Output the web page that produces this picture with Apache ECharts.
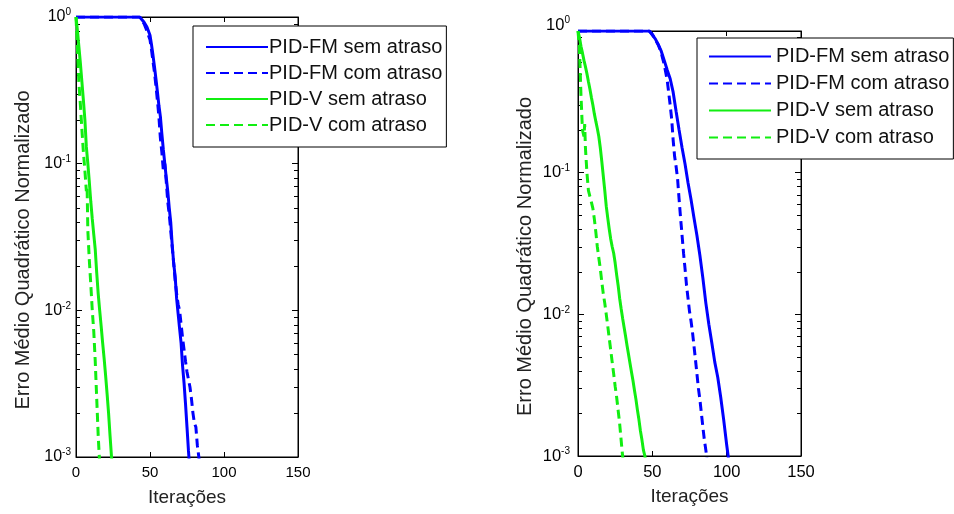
<!DOCTYPE html>
<html>
<head>
<meta charset="utf-8">
<script src="https://cdn.jsdelivr.net/npm/echarts/dist/echarts.min.js"></script>
<style>html,body{margin:0;padding:0;background:#fff;}#c{width:954px;height:514px;}</style>
</head>
<body>
<div id="c"></div>
<script>
// ---------- data ----------
const seriesNames = ['PID-FM sem atraso', 'PID-FM com atraso', 'PID-V sem atraso', 'PID-V com atraso'];
const xTicks = [0, 50, 100, 150];
const yDecades = [0.001, 0.01, 0.1, 1];
const minorTickValues = [0.002,0.003,0.004,0.005,0.006,0.007,0.008,0.009,
  0.02,0.03,0.04,0.05,0.06,0.07,0.08,0.09,0.2,0.3,0.4,0.5,0.6,0.7,0.8,0.9];

// Left panel
const leftFmSemX = [0,43,44,46,48,50,51,52,53,54,55,56,57,58,59,60,61,62,63,64,65,66,67,68,69,70,71,72,73,74,75,76,77];
const leftFmSemY = [1,1,0.98,0.92,0.85,0.75,0.65,0.55,0.46,0.38,0.31,0.25,0.21,0.16,0.125,0.1,0.08,0.065,0.05,0.04,0.028,0.021,0.017,0.012,0.0095,0.0075,0.006,0.0042,0.0032,0.0023,0.0016,0.0011,0.0008];
const leftFmComX = [0,43,44,46,48,50,51,52,53,54,55,56,57,58,59,60,61,62,63,64,65,66,67,68,69,70,72,74,75,76,77,78,79,80,81,82,83,84];
const leftFmComY = [1,1,0.97,0.9,0.8,0.7,0.6,0.5,0.42,0.34,0.27,0.21,0.15,0.12,0.09,0.1,0.075,0.055,0.045,0.035,0.027,0.021,0.016,0.013,0.011,0.01,0.0065,0.0045,0.0038,0.0037,0.003,0.0025,0.002,0.0017,0.0016,0.0012,0.001,0.0008];
const leftVSemX = [0,1,2,3,4,5,6,7,8,9,10,11,12,13,14,15,16,17,18,19,20,21,22,23,24,25];
const leftVSemY = [1,0.8,0.62,0.48,0.36,0.27,0.2,0.13,0.1,0.075,0.055,0.042,0.033,0.026,0.018,0.013,0.01,0.0078,0.006,0.0047,0.0036,0.0027,0.002,0.0014,0.001,0.0008];
const leftVComX = [0,1,2,3,4,5,6,7,7.5,8,9,10,11,12,13,14,15,16];
const leftVComY = [1,0.6,0.35,0.25,0.17,0.12,0.09,0.065,0.07,0.035,0.022,0.015,0.01,0.0072,0.0045,0.0025,0.0014,0.0009];

// Right panel
const rightFmSemX = [0,48,49,52,54,56,58,60,62,64,66,68,70,72,74,76,78,80,82,84,86,88,90,92,94,96,98,100,101,102];
const rightFmSemY = [1,1,0.98,0.88,0.8,0.72,0.62,0.53,0.46,0.37,0.27,0.2,0.15,0.115,0.085,0.065,0.048,0.036,0.026,0.018,0.012,0.0085,0.0063,0.0046,0.0036,0.0026,0.0018,0.0012,0.001,0.0008];
const rightFmComX = [0,48,50,52,54,56,58,60,62,63,64,65,66,67,68,69,70,71,72,73,74,75,76,77,78,79,80,81,82,83,84,85,86,87];
const rightFmComY = [1,1,0.95,0.87,0.8,0.7,0.58,0.45,0.3,0.24,0.17,0.13,0.11,0.09,0.065,0.048,0.036,0.027,0.021,0.016,0.013,0.0105,0.009,0.0075,0.006,0.0048,0.0038,0.003,0.0025,0.002,0.0016,0.0013,0.0011,0.0009];
const rightVSemX = [0,1,2,3,4,5,6,7,8,9,10,11,12,13,14,15,16,17,18,19,20,21,22,23,24,25,26,27,28,29,30,31,32,33,34,35,36,37,38,39,40,41,42,43,44,45,46];
const rightVSemY = [1,0.9,0.78,0.7,0.62,0.56,0.5,0.44,0.39,0.34,0.3,0.26,0.23,0.205,0.18,0.15,0.12,0.095,0.075,0.058,0.048,0.04,0.034,0.03,0.027,0.023,0.019,0.016,0.013,0.011,0.0094,0.0081,0.007,0.006,0.0052,0.0045,0.0039,0.0034,0.0029,0.0025,0.0021,0.0018,0.0015,0.0013,0.0011,0.001,0.0008];
const rightVComX = [0,1,2,3,4,4.5,5,6,7,8,9,10,11,12,13,14,15,16,17,18,19,20,21,22,23,24,25,26,27,28,29,30,31];
const rightVComY = [1,0.75,0.35,0.2,0.18,0.22,0.15,0.1,0.075,0.068,0.062,0.056,0.047,0.038,0.03,0.025,0.021,0.017,0.014,0.012,0.01,0.0083,0.0068,0.0056,0.0046,0.0038,0.0031,0.0026,0.0021,0.0017,0.0013,0.001,0.0008];

// ---------- chart ----------
const FONT = 'Liberation Sans, Arial, sans-serif';
const BLUE = '#0000ff';
const GREEN = '#11ee11';
const zip = (xs, ys) => xs.map((x, i) => [x, ys[i]]);

function makeSupLabel(liftTop) {
  return function (v) {
    const e = Math.round(Math.log10(v));
    if (liftTop && e === 0) return '{bt|10}{st|' + e + '}';
    return '{b|10}{s|' + e + '}';
  };
}

function makeAxes(gi, xFont, yFont, yMargin, liftTop) {
  const xs = [
    { type: 'value', gridIndex: gi, position: 'bottom', min: 0, max: 150, interval: 50,
      axisLine: { show: true, onZero: false, lineStyle: { color: '#000', width: 1 } },
      axisTick: { show: true, inside: true, length: 5, lineStyle: { color: '#000' } },
      axisLabel: { show: true, color: '#000', fontFamily: FONT, fontSize: xFont, margin: 8 },
      splitLine: { show: false },
      name: 'Iterações', nameLocation: 'middle', nameGap: 31,
      nameTextStyle: { fontFamily: FONT, fontSize: 19, color: '#222' } },
    { type: 'value', gridIndex: gi, position: 'top', min: 0, max: 150, interval: 50,
      axisLine: { show: true, onZero: false, lineStyle: { color: '#000', width: 1 } },
      axisTick: { show: true, inside: true, length: 5, lineStyle: { color: '#000' } },
      axisLabel: { show: false }, splitLine: { show: false } }
  ];
  const ys = [
    { type: 'log', logBase: 10, gridIndex: gi, position: 'left', min: 0.001, max: 1, interval: 1,
      axisLine: { show: true, onZero: false, lineStyle: { color: '#000', width: 1 } },
      axisTick: { show: true, inside: true, length: 6, lineStyle: { color: '#000' } },
      axisLabel: { show: true, formatter: makeSupLabel(liftTop), margin: yMargin,
        rich: { b: { fontFamily: FONT, fontSize: yFont, color: '#000' },
                s: { fontFamily: FONT, fontSize: 10, color: '#000', padding: [0, 0, 9, 0] },
                bt: { fontFamily: FONT, fontSize: yFont, color: '#000', padding: [0, 0, 12, 0] },
                st: { fontFamily: FONT, fontSize: 10, color: '#000', padding: [0, 0, 21, 0] } } },
      splitLine: { show: false },
      name: 'Erro Médio Quadrático Normalizado', nameLocation: 'middle', nameGap: 43,
      nameTextStyle: { fontFamily: FONT, fontSize: 20, color: '#222', padding: [0, 26, 0, 0] } },
    { type: 'log', logBase: 10, gridIndex: gi, position: 'right', min: 0.001, max: 1, interval: 1,
      axisLine: { show: true, onZero: false, lineStyle: { color: '#000', width: 1 } },
      axisTick: { show: true, inside: true, length: 6, lineStyle: { color: '#000' } },
      axisLabel: { show: false }, splitLine: { show: false } }
  ];
  return { xs, ys };
}

const a0 = makeAxes(0, 15, 16, 5, false);
const a1 = makeAxes(1, 16.5, 16.5, 8, true);

function lineSeries(name, data, xi, yi, color, dashed) {
  return {
    type: 'line', name, data, xAxisIndex: xi, yAxisIndex: yi,
    symbol: 'none', showSymbol: false, clip: true, z: 3,
    lineStyle: { color, width: 3, type: dashed ? [9, 5] : 'solid' },
    itemStyle: { color }
  };
}

// minor log ticks on both vertical edges, bound to the secondary (top/right) axes
function minorTicks(xi, yi) {
  return {
    type: 'custom', xAxisIndex: xi, yAxisIndex: yi, silent: true, z: 1, clip: false,
    data: minorTickValues.map(v => [xTicks[0], v]),
    renderItem: function (params, api) {
      const v = api.value(1);
      const pL = api.coord([xTicks[0], v]);
      const pR = api.coord([xTicks[xTicks.length - 1], v]);
      const y = Math.round(pL[1]) + 0.5;
      return { type: 'group', children: [
        { type: 'line', shape: { x1: pL[0], y1: y, x2: pL[0] + 4, y2: y }, style: { stroke: '#000', lineWidth: 1 } },
        { type: 'line', shape: { x1: pR[0] - 4, y1: y, x2: pR[0], y2: y }, style: { stroke: '#000', lineWidth: 1 } }
      ] };
    }
  };
}

function legendAt(left, top, pad, lh, textShift) {
  return {
    orient: 'vertical', left, top, itemWidth: 62, itemHeight: 14, itemGap: 0,
    padding: pad, borderColor: '#000', borderWidth: 1, backgroundColor: '#fff',
    selectedMode: false, z: 20,
    itemStyle: { opacity: 0 },
    textStyle: { fontFamily: FONT, fontSize: 20, lineHeight: lh, color: '#111', padding: [0, 0, 0, textShift] },
    data: seriesNames.map(n => ({ name: n }))
  };
}

const option = {
  animation: false,
  backgroundColor: '#fff',
  grid: [
    { left: 76, top: 17, width: 222, height: 440, outerBoundsMode: 'none', show: true, borderColor: '#000', borderWidth: 1, backgroundColor: 'transparent' },
    { left: 578, top: 31, width: 223, height: 425, outerBoundsMode: 'none', show: true, borderColor: '#000', borderWidth: 1, backgroundColor: 'transparent' }
  ],
  xAxis: [a0.xs[0], a0.xs[1], a1.xs[0], a1.xs[1]],
  yAxis: [a0.ys[0], a0.ys[1], a1.ys[0], a1.ys[1]],
  legend: [legendAt(193, 26, [8, 4, 9, 12], 26, -4), legendAt(697, 38, [5, 4, 8, 11], 27, 0)],
  series: [
    lineSeries(seriesNames[0], zip(leftFmSemX, leftFmSemY), 0, 0, BLUE, false),
    lineSeries(seriesNames[1], zip(leftFmComX, leftFmComY), 0, 0, BLUE, true),
    lineSeries(seriesNames[2], zip(leftVSemX, leftVSemY), 0, 0, GREEN, false),
    lineSeries(seriesNames[3], zip(leftVComX, leftVComY), 0, 0, GREEN, true),
    lineSeries(seriesNames[0], zip(rightFmSemX, rightFmSemY), 2, 2, BLUE, false),
    lineSeries(seriesNames[1], zip(rightFmComX, rightFmComY), 2, 2, BLUE, true),
    lineSeries(seriesNames[2], zip(rightVSemX, rightVSemY), 2, 2, GREEN, false),
    lineSeries(seriesNames[3], zip(rightVComX, rightVComY), 2, 2, GREEN, true),
    minorTicks(1, 1),
    minorTicks(3, 3)
  ]
};

const chart = echarts.init(document.getElementById('c'), null, { renderer: 'canvas' });
chart.setOption(option);
</script>
</body>
</html>
